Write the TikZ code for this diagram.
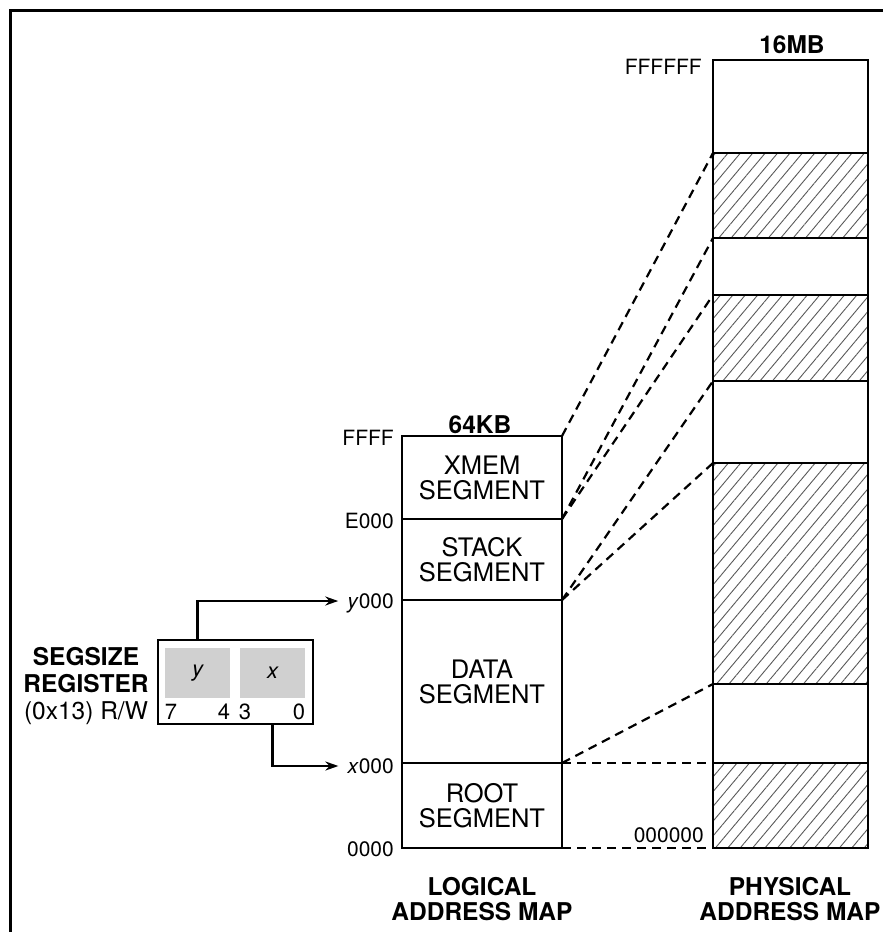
\documentclass[tikz,border=0pt]{standalone}
\usepackage{fontspec}
\setmainfont{TeX Gyre Heros}
\usetikzlibrary{positioning, patterns.meta, arrows.meta}
\definecolor{cellgray}{RGB}{208,208,208}
\tikzset{
    seg/.style = {
        draw,
        line width     = 2.6pt,
        minimum width  = 160pt,
        inner sep      = 0pt,
        outer sep      = 0pt,
        align          = center,
        font           = \fontsize{25.5}{25}\selectfont,
    },
    region/.style = {
        draw,
        line width     = 2.6pt,
        minimum width  = 155pt,
        inner sep      = 0pt,
        outer sep      = 0pt,
    },
    hatched/.style = {
        region,
        pattern        = {Lines[angle=50, distance=9.5pt, line width=0.9pt]},
        pattern color  = black!65,
    },
    cell/.style = {
        fill           = cellgray,
        minimum width  = 65pt,
        minimum height = 50pt,
        inner sep      = 0pt,
        font           = \itshape\fontsize{22}{22}\selectfont,
    },
    addr/.style     = {anchor=east, inner sep=0pt, text depth=0pt, font=\fontsize{21}{21}\selectfont},
    bitno/.style    = {inner sep=0pt, text depth=0pt, font=\fontsize{22}{22}\selectfont},
    sizelabel/.style = {inner sep=0pt, font=\bfseries\fontsize{24.5}{24.5}\selectfont},
    maplabel/.style = {align=center, inner sep=0pt, font=\bfseries\fontsize{24.5}{25.5}\selectfont},
    link/.style     = {dash pattern=on 9pt off 6pt, line width=2.2pt},
    arr/.style      = {-{Stealth[length=13pt, width=9pt]}, line width=2.2pt},
}

\begin{document}
\begin{tikzpicture}[x=1pt, y=-1pt]
    \useasboundingbox (0,0) rectangle (883,932);
    \draw [line width=3pt] (10,932) -- (10,10) -- (883,10);

    % logical address map
    \node (xmem)  [seg, minimum height=83pt, anchor=north west] at (402,436) {XMEM\\SEGMENT};
    \node (stack) [seg, minimum height=81pt, below=0pt of xmem] {STACK\\SEGMENT};
    \node (data)  [seg, minimum height=163pt, below=0pt of stack] {DATA\\SEGMENT};
    \node (root)  [seg, minimum height=85pt, below=0pt of data] {ROOT\\SEGMENT};

    \node (kb)   [sizelabel] at (480,425) {64KB};
    \node (ffff) [addr] at (394,438) {FFFF};
    \node (e000) [addr] at (394,521) {E000};
    \node (ylab) [addr] at (394,601) {\textit{y}000};
    \node (xlab) [addr] at (394,766) {\textit{x}000};
    \node (zero) [addr] at (394,849) {0000};
    \node (logical) [maplabel] at (482,899) {LOGICAL\\ADDRESS MAP};

    % physical address map
    \node (p1) [region,  minimum height=93pt, anchor=north west] at (713,60) {};
    \node (p2) [hatched, minimum height=85pt, below=0pt of p1] {};
    \node (p3) [region,  minimum height=57pt, below=0pt of p2] {};
    \node (p4) [hatched, minimum height=86pt, below=0pt of p3] {};
    \node (p5) [region,  minimum height=82pt, below=0pt of p4] {};
    \node (p6) [hatched, minimum height=221pt, below=0pt of p5] {};
    \node (p7) [region,  minimum height=79pt, below=0pt of p6] {};
    \node (p8) [hatched, minimum height=85pt, below=0pt of p7] {};

    \node (mb)     [sizelabel] at (792,45) {16MB};
    \node (ffffff) [addr] at (702,67) {FFFFFF};
    \node (zeros)  [addr] at (704,835) {000000};
    \node (physical) [maplabel] at (790,899) {PHYSICAL\\ADDRESS MAP};

    % segment mapping
    \draw [link] (xmem.north east)  -- (p2.north west);
    \draw [link] (xmem.south east)  -- (p2.south west);
    \draw [link] (stack.north east) -- (p4.north west);
    \draw [link] (stack.south east) -- (p4.south west);
    \draw [link] (data.north east)  -- (p6.north west);
    \draw [link] (data.south east)  -- (p6.south west);
    \draw [link] (root.north east)  -- (p8.north west);
    \draw [link] (root.south east)  -- (p8.south west);

    % segsize register
    \node (reg) [draw, line width=2.6pt, minimum width=155pt, minimum height=84pt, inner sep=0pt, outer sep=0pt] at (235.5,682) {};
    \node (ycell) [cell] at (197.5,673) {y};
    \node (xcell) [cell] at (272.5,673) {x};
    \node (b7) [bitno] at (171,712) {7};
    \node (b4) [bitno] at (224,712) {4};
    \node (b3) [bitno] at (245,712) {3};
    \node (b0) [bitno] at (299,712) {0};
    \node (regname) [align=center, inner sep=0pt, font=\fontsize{24.5}{27}\selectfont] at (86,686)
        {\textbf{SEGSIZE}\\\textbf{REGISTER}\\(0x13) R/W};

    \draw [arr] (reg.north -| ycell) |- ([xshift=-9pt]ylab.west);
    \draw [arr] (reg.south -| xcell) |- ([xshift=-9pt]xlab.west);
\end{tikzpicture}
\end{document}
